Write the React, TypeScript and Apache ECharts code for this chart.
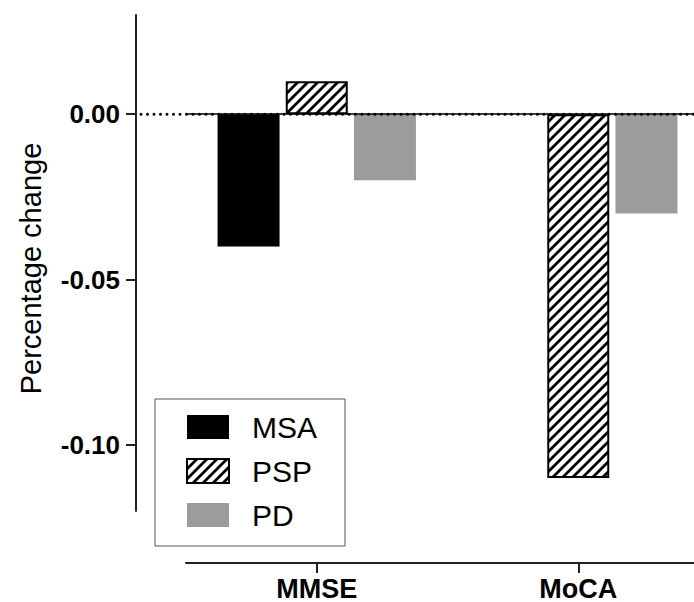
import React, { useEffect, useRef } from "react";
import * as echarts from "echarts";

const categories = ["MMSE", "MoCA"];
const seriesNames = ["MSA", "PSP", "PD"];
const msaValues = [-0.04, 0];
const pspValues = [0.01, -0.11];
const pdValues = [-0.02, -0.03];
const yTickValues = [-0.1, -0.05, 0];
const yMin = -0.12;
const yMax = 0.03;

const W = 694;
const H = 602;
const GRID_LEFT = 186;
const GRID_TOP = 15;
const GRID_WIDTH = 523;
const GRID_HEIGHT = 496;
const Y_OFFSET = 50;
const X_OFFSET = 52;
const FONT = "'Liberation Sans', Arial, Helvetica, sans-serif";

function makeHatch(): HTMLCanvasElement {
  const c = document.createElement("canvas");
  const s = 10;
  c.width = s;
  c.height = s;
  const ctx = c.getContext("2d")!;
  ctx.fillStyle = "#ffffff";
  ctx.fillRect(0, 0, s, s);
  ctx.strokeStyle = "#000000";
  ctx.lineWidth = 2.8;
  ctx.beginPath();
  ctx.moveTo(-s, 2 * s);
  ctx.lineTo(2 * s, -s);
  ctx.moveTo(-s, s);
  ctx.lineTo(s, -s);
  ctx.moveTo(0, 2 * s);
  ctx.lineTo(2 * s, 0);
  ctx.stroke();
  return c;
}

export default function App() {
  const ref = useRef<HTMLDivElement>(null);
  useEffect(() => {
    if (!ref.current) return;
    const chart = echarts.init(ref.current, null, { renderer: "svg" });
    const hatch = makeHatch();
    const values = [msaValues, pspValues, pdValues];
    const styles = [
      { color: "#000000" },
      { color: { image: hatch, repeat: "repeat" }, borderColor: "#000000", borderWidth: 2 },
      { color: "#9c9c9c" },
    ];
    chart.setOption({
      animation: false,
      backgroundColor: "#ffffff",
      textStyle: { fontFamily: FONT },
      grid: {
        left: GRID_LEFT,
        top: GRID_TOP,
        width: GRID_WIDTH,
        height: GRID_HEIGHT,
        containLabel: false,
        outerBoundsMode: "none",
      },
      legend: {
        data: seriesNames,
        orient: "vertical",
        left: 155,
        top: 399,
        icon: "rect",
        itemWidth: 42,
        itemHeight: 24,
        itemGap: 14,
        padding: [13, 28, 16, 31],
        borderColor: "#555555",
        borderWidth: 1,
        textStyle: { fontSize: 30, fontFamily: FONT, color: "#000", lineHeight: 30, padding: [0, 0, 0, 18] },
        selectedMode: false,
      },
      xAxis: {
        type: "category",
        data: categories,
        offset: X_OFFSET,
        axisLine: { onZero: false, lineStyle: { color: "#222", width: 2 } },
        axisTick: { show: true, alignWithLabel: true, length: 10, lineStyle: { color: "#222", width: 2 } },
        axisLabel: { fontSize: 27, fontWeight: "bold", color: "#000", margin: 12, fontFamily: FONT },
      },
      yAxis: {
        type: "value",
        min: yMin,
        max: yMax,
        offset: Y_OFFSET,
        splitLine: { show: false },
        name: "Percentage change",
        nameLocation: "middle",
        nameGap: 91,
        nameRotate: 90,
        nameTextStyle: { fontSize: 29, color: "#000", fontFamily: FONT, padding: [0, 11, 0, 0] },
        axisLine: { show: true, lineStyle: { color: "#222", width: 2 } },
        axisTick: { show: true, length: 10, customValues: yTickValues, lineStyle: { color: "#222", width: 2 } },
        axisLabel: {
          fontSize: 26,
          fontWeight: "bold",
          color: "#000",
          margin: 16,
          fontFamily: FONT,
          customValues: yTickValues,
          formatter: (v: number) => v.toFixed(2),
        },
      },
      series: seriesNames.map((name, i) => ({
        name,
        type: "bar",
        data: values[i],
        barWidth: 62,
        barGap: "10%",
        itemStyle: styles[i],
        markLine:
          i === 0
            ? {
                silent: true,
                symbol: "none",
                label: { show: false },
                lineStyle: { color: "#000", width: 1.5, type: "solid" },
                data: [{ yAxis: 0 }],
              }
            : undefined,
      })),
    });
    const y0 = chart.convertToPixel({ yAxisIndex: 0 }, 0) as number;
    chart.setOption({
      graphic: [
        {
          type: "line",
          z: 10,
          shape: { x1: GRID_LEFT - Y_OFFSET + 5, y1: y0, x2: W, y2: y0 },
          style: { stroke: "#000", lineWidth: 3, lineDash: [0, 6.5], lineCap: "round" },
        },
      ],
    });
    return () => chart.dispose();
  }, []);
  return (
    <div
      ref={ref}
      style={{ position: "fixed", left: 0, top: 0, width: W, height: H }}
    />
  );
}
